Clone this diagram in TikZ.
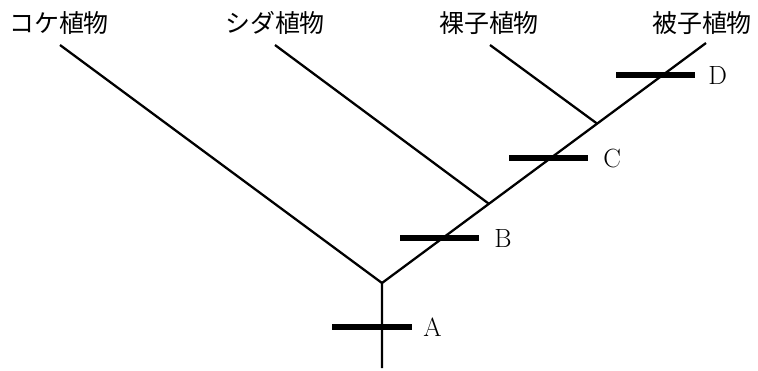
\documentclass[tikz,border=0pt]{standalone}
\usepackage{fontspec}
\newfontfamily\jpfont{Noto Sans CJK JP}
\usetikzlibrary{calc, positioning}

\begin{document}
\begin{tikzpicture}[x=0.02cm, y=-0.02cm,
    branch/.style={line width=1.3pt},
    trait/.style={line width=3.2pt},
    taxon/.style={font=\jpfont\fontsize{14.2}{15}\selectfont, inner sep=0pt},
    marker/.style={font=\fontsize{15}{15}\selectfont, inner sep=0pt}]
  \useasboundingbox (0,0) rectangle (758,370);
  % Tips of the tree
  \coordinate (tKoke) at (60,45);
  \coordinate (tShida) at (275,45);
  \coordinate (tRashi) at (490,45);
  \coordinate (tHishi) at (706,43);
  % Branch points
  \coordinate (base) at (382,368);
  \coordinate (root) at (382,283);
  \coordinate (jB) at ($(root)!0.33!(tHishi)$);
  \coordinate (jC) at ($(root)!0.664!(tHishi)$);
  % Taxon names
  \node[taxon] (koke) at (59,23) {コケ植物};
  \node[taxon] (shida) at (275,23) {シダ植物};
  \node[taxon] (rashi) at (489,23) {裸子植物};
  \node[taxon] (hishi) at (702,23) {被子植物};
  % Branches
  \draw[branch] (base) -- (root) -- (tHishi);
  \draw[branch] (root) -- (tKoke);
  \draw[branch] (jB) -- (tShida);
  \draw[branch] (jC) -- (tRashi);
  % Trait marks
  \draw[trait] (332,327) -- ++(80,0) coordinate (eA);
  \draw[trait] (400,238) -- ++(79,0) coordinate (eB);
  \draw[trait] (509,158) -- ++(79,0) coordinate (eC);
  \draw[trait] (616,75) -- ++(79,0) coordinate (eD);
  \node[marker, right=0.22cm of eA] (A) {A};
  \node[marker, right=0.3cm of eB] (B) {B};
  \node[marker, right=0.3cm of eC] (C) {C};
  \node[marker, right=0.26cm of eD] (D) {D};
\end{tikzpicture}
\end{document}
